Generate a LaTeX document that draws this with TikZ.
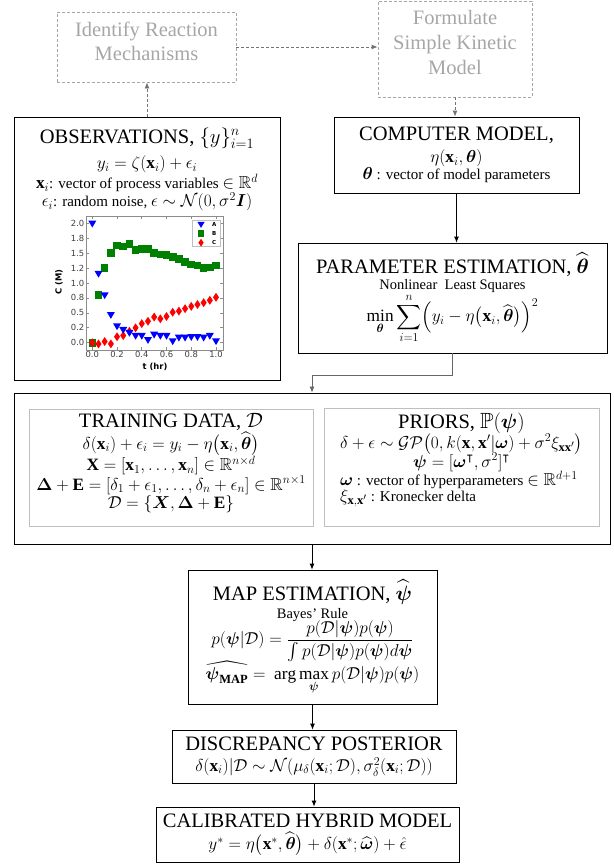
\documentclass[tikz,border=0pt]{standalone}
\usepackage{amsmath,amssymb}
\usepackage{fontspec}
\setmainfont{Liberation Serif}
\newfontfamily\plotfont{DejaVu Sans}
\usetikzlibrary{arrows.meta,positioning,calc}

\DeclareMathSizes{15}{17.3}{12.5}{10}
\DeclareMathSizes{14.5}{16.5}{12}{9}
\DeclareMathSizes{20.5}{22}{15}{11}
\newcommand{\titlefont}{\fontsize{20.5}{22}\selectfont}
\newcommand{\bodyfont}{\fontsize{15}{17}\selectfont}
\newcommand{\innerfont}{\fontsize{15}{15.5}\selectfont}
\newcommand{\subfont}{\fontsize{14.5}{16}\selectfont}

\tikzset{
  box/.style={draw=black, line width=0.8pt, align=center, inner sep=0pt, font=\bodyfont},
  faintbox/.style={draw=black!35, line width=0.8pt, dash pattern=on 3pt off 2pt, inner sep=0pt},
  faintlabel/.style={text=black!35, align=center, inner sep=0pt},
  inbox/.style={draw=black!25, line width=0.9pt, inner sep=0pt},
  flow/.style={-{Latex[length=6pt,width=5pt]}, line width=0.8pt},
  faintflow/.style={flow, draw=black!55, dash pattern=on 3pt off 2pt},
  axisline/.style={draw=black!45, line width=0.7pt},
}

\begin{document}
\begin{tikzpicture}[x=1pt,y=-1pt]
\useasboundingbox (0,0) rectangle (613,867);

% faint boxes at the top
\node[faintbox, minimum width=179pt, minimum height=70pt] (ident) at (146.5,47) {};
\node[faintlabel, font=\fontsize{20.5}{24}\selectfont] (identtxt) at (146.5,41) {Identify Reaction\\Mechanisms};
\node[faintbox, minimum width=154pt, minimum height=96pt] (form) at (455,49) {};
\node[faintlabel, font=\fontsize{20.5}{25}\selectfont] (formtxt) at (455,42) {Formulate\\Simple Kinetic\\Model};

% observations
\node[box, minimum width=266pt, minimum height=263pt] (obs) at (147,248.5) {};
\node[below=11pt of obs.north, align=center, font=\bodyfont, inner sep=0pt] (obstxt) {{\titlefont OBSERVATIONS, $\{y\}_{i=1}^{n}$}\\[6pt]
  $y_i=\zeta(\mathbf{x}_i)+\epsilon_i$\\
  $\mathbf{x}_i$: vector of process variables $\in\mathbb{R}^d$\\
  $\epsilon_i$: random noise, $\epsilon\sim\mathcal{N}(0,\sigma^2\boldsymbol{I})$};

% computer model and fit
\node[box, minimum width=245pt, minimum height=76pt] (comp) at (456.5,155) {{\titlefont COMPUTER MODEL,}\\[5pt]
  $\eta(\mathbf{x}_i,\boldsymbol{\theta})$\\
  $\boldsymbol{\theta}$ : vector of model parameters};
\node[box, minimum width=309pt, minimum height=110pt] (param) at (452.5,298) {{\titlefont PARAMETER ESTIMATION, $\widehat{\boldsymbol{\theta}}$}\\[-1pt]
  {\subfont Nonlinear\ \ Least Squares}\\[0pt]
  $\displaystyle\min_{\boldsymbol{\theta}}\sum_{i=1}^{n}\Bigl(y_i-\eta\bigl(\mathbf{x}_i,\widehat{\boldsymbol{\theta}}\bigr)\Bigr)^2$};

% training data and priors
\node[box, minimum width=596pt, minimum height=151pt] (big) at (312,468.5) {};
\node[inbox, minimum width=284pt, minimum height=117pt] (train) at (171,467.5) {};
\node[inbox, minimum width=275pt, minimum height=118pt] (prior) at (461.5,467) {};
\node[below=5pt of train.north, align=center, font=\innerfont, inner sep=0pt] (traintxt) {{\titlefont TRAINING DATA, $\mathcal{D}$}\\
  $\delta(\mathbf{x}_i)+\epsilon_i=y_i-\eta\bigl(\mathbf{x}_i,\widehat{\boldsymbol{\theta}}\bigr)$\\
  $\mathbf{X}=[\mathbf{x}_1,\dots,\mathbf{x}_n]\in\mathbb{R}^{n\times d}$\\
  $\boldsymbol{\Delta}+\mathbf{E}=[\delta_1+\epsilon_1,\dots,\delta_n+\epsilon_n]\in\mathbb{R}^{n\times 1}$\\
  $\mathcal{D}=\{\boldsymbol{X},\boldsymbol{\Delta}+\mathbf{E}\}$};
\node[below=5pt of prior.north, font=\innerfont, inner sep=0pt] (priortxt) {\begin{tabular}{@{}l@{}}
  \multicolumn{1}{@{}c@{}}{\titlefont PRIORS, $\mathbb{P}(\boldsymbol{\psi})$}\\[0pt]
  \multicolumn{1}{@{}c@{}}{$\delta+\epsilon\sim\mathcal{GP}\bigl(0,k(\mathbf{x},\mathbf{x}'|\boldsymbol{\omega})+\sigma^2\xi_{\mathbf{xx}'}\bigr)$}\\[-1pt]
  \multicolumn{1}{@{}c@{}}{$\boldsymbol{\psi}=[\boldsymbol{\omega}^{\intercal},\sigma^2]^{\intercal}$}\\[-1pt]
  $\boldsymbol{\omega}$ : vector of hyperparameters $\in\mathbb{R}^{d+1}$\\[-1pt]
  $\xi_{\mathbf{x},\mathbf{x}'}$ : Kronecker delta
\end{tabular}};

% posterior steps
\node[box, minimum width=249pt, minimum height=134pt] (map) at (312.5,637) {{\titlefont MAP ESTIMATION, $\widehat{\boldsymbol{\psi}}$}\\[1pt]
  {\subfont Bayes’ Rule}\\[-2pt]
  $\displaystyle p(\boldsymbol{\psi}|\mathcal{D})=\frac{p(\mathcal{D}|\boldsymbol{\psi})p(\boldsymbol{\psi})}{\int p(\mathcal{D}|\boldsymbol{\psi})p(\boldsymbol{\psi})d\boldsymbol{\psi}}$\\[-2pt]
  $\displaystyle\widehat{\boldsymbol{\psi}_{\mathbf{MAP}}}=\ \arg\max_{\boldsymbol{\psi}}p(\mathcal{D}|\boldsymbol{\psi})p(\boldsymbol{\psi})$};
\node[box, minimum width=284pt, minimum height=53pt] (disc) at (314,756.5) {{\titlefont DISCREPANCY POSTERIOR}\\[4pt]
  $\delta(\mathbf{x}_i)|\mathcal{D}\sim\mathcal{N}(\mu_\delta(\mathbf{x}_i;\mathcal{D}),\sigma_\delta^2(\mathbf{x}_i;\mathcal{D}))$};
\node[box, minimum width=303pt, minimum height=55pt] (calib) at (307.5,834.5) {{\titlefont CALIBRATED HYBRID MODEL}\\[4pt]
  $y^*=\eta\bigl(\mathbf{x}^*,\widehat{\boldsymbol{\theta}}\bigr)+\delta(\mathbf{x}^*;\widehat{\boldsymbol{\omega}})+\hat{\epsilon}$};

% connectors
\coordinate (elbow) at (312,375);
\draw[faintflow] (ident.east) -- (ident.east -| form.west);
\draw[faintflow] (form.south) -- (form.south |- comp.north);
\draw[faintflow] (obs.north) -- (obs.north |- ident.south);
\draw[flow] (comp.south) -- (comp.south |- param.north);
\draw[flow, draw=black!60] (param.south) |- (elbow) -- (elbow |- big.north);
\draw[flow] (big.south) -- (big.south |- map.north);
\draw[flow] (map.south) -- (map.south |- disc.north);
\draw[flow] (disc.south) -- (disc.south |- calib.north);

% concentration plot
\begin{scope}[shift={(92.3,342.7)}, x=123.7pt, y=59.7pt, font=\plotfont\fontsize{8.4}{9}\selectfont, text=black!75]
  \draw[axisline] (-0.051,-0.122) rectangle (1.057,2.12);
  \foreach \t/\l [count=\k] in {0/0.0,0.2/0.2,0.4/0.4,0.6/0.6,0.8/0.8,1/1.0} {
    \draw[axisline] (\t,-0.122) -- ++(0,3pt) (\t,2.12) -- ++(0,-3pt);
    \node[below=0.5pt, inner sep=1pt] (xt\k) at (\t,-0.122) {\l};
  }
  \foreach \c/\l [count=\k] in {0/0.0,0.25/0.2,0.5/0.5,0.75/0.8,1/1.0,1.25/1.2,1.5/1.5,1.75/1.8,2/2.0} {
    \draw[axisline] (-0.051,\c) -- ++(3pt,0) (1.057,\c) -- ++(-3pt,0);
    \node[left=0.5pt, inner sep=1pt] (yt\k) at (-0.051,\c) {\l};
  }
  \node[rotate=90, font=\plotfont\bfseries\fontsize{8.4}{9}\selectfont, text=black] (clabel) at (-0.27,1.02) {C (M)};
  \node[font=\plotfont\bfseries\fontsize{8.4}{9}\selectfont, text=black] (tlabel) at (0.507,-0.41) {t (hr)};
  % B, squares
  \foreach \v [count=\i from 0] in {0.00,0.80,1.25,1.50,1.63,1.61,1.65,1.55,1.57,1.57,1.50,1.48,1.47,1.44,1.40,1.35,1.31,1.29,1.25,1.26,1.29}
    \fill[green!50!black] (\i*0.05,\v) ++(-3.8pt,-3.8pt) rectangle ++(7.6pt,7.6pt);
  % C, thin diamonds
  \foreach \v [count=\i from 0] in {0.00,-0.02,0.02,-0.02,0.10,0.12,0.19,0.25,0.32,0.36,0.43,0.40,0.44,0.51,0.53,0.57,0.61,0.64,0.67,0.71,0.76}
    \fill[red] (\i*0.05,\v) ++(0,4.5pt) -- ++(3pt,-4.5pt) -- ++(-3pt,-4.5pt) -- ++(-3pt,4.5pt) -- cycle;
  % A, down triangles
  \foreach \v [count=\i from 0] in {2.00,1.16,0.80,0.47,0.28,0.22,0.17,0.12,0.12,0.05,0.14,0.12,0.12,0.03,0.09,0.09,0.10,0.10,0.09,0.12,0.03}
    \fill[blue] (\i*0.05,\v) ++(-4pt,2.6pt) -- ++(8pt,0) -- ++(-4pt,-6.8pt) -- cycle;
  % legend
  \draw[draw=black!25, fill=white] (0.81,1.62) rectangle (1.03,2.055);
  \fill[blue] (0.879,1.983) ++(-3.6pt,2.4pt) -- ++(7.2pt,0) -- ++(-3.6pt,-6pt) -- cycle;
  \fill[green!50!black] (0.879,1.833) ++(-3.3pt,-3.3pt) rectangle ++(6.6pt,6.6pt);
  \fill[red] (0.879,1.675) ++(0,4pt) -- ++(2.6pt,-4pt) -- ++(-2.6pt,-4pt) -- ++(-2.6pt,4pt) -- cycle;
  \foreach \n/\c in {A/1.983,B/1.833,C/1.675}
    \node[font=\plotfont\bfseries\fontsize{5.5}{6}\selectfont, text=black, inner sep=0pt] (leg\n) at (0.985,\c) {\n};
\end{scope}
\end{tikzpicture}
\end{document}
